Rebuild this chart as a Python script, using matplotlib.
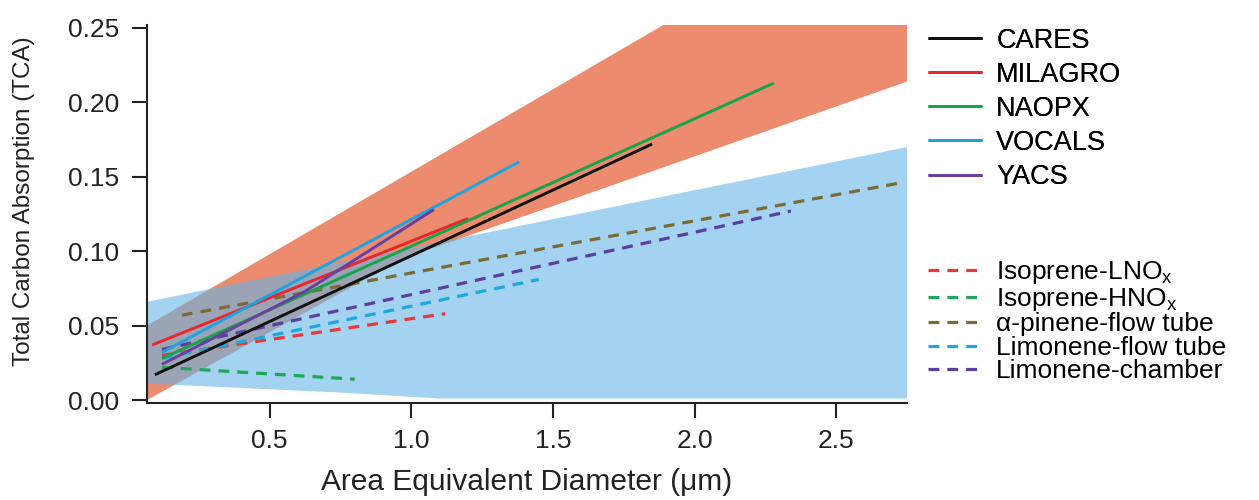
import numpy as np
import matplotlib
matplotlib.use('Agg')
import matplotlib.pyplot as plt

plt.rcParams['font.family'] = ['Liberation Sans', 'DejaVu Sans']
plt.rcParams['mathtext.fontset'] = 'custom'
plt.rcParams['mathtext.rm'] = 'Liberation Sans'

# shaded ranges (upper / lower edges)
orange_up_x = [0.067, 1.89, 2.75]
orange_up_y = [0.050, 0.252, 0.252]
orange_lo_x = [0.067, 0.97, 1.81, 2.75]
orange_lo_y = [0.000, 0.095, 0.151, 0.214]

blue_up_x = [0.067, 2.75]
blue_up_y = [0.066, 0.170]
blue_lo_x = [0.067, 0.30, 0.75, 1.10, 2.75]
blue_lo_y = [0.011, 0.009, 0.005, 0.001, 0.001]

# field campaigns (solid)
field_names = ['CARES', 'MILAGRO', 'NAOPX', 'VOCALS', 'YACS']
field_colors = ['#111111', '#E8262C', '#16A34A', '#1CA3E0', '#6B3FA0']
field_x = [[0.095, 1.85], [0.085, 1.20], [0.12, 2.28], [0.12, 1.38], [0.12, 0.625, 1.08]]
field_y = [[0.017, 0.172], [0.037, 0.122], [0.028, 0.213], [0.032, 0.160], [0.024, 0.073, 0.128]]

# lab studies (dashed)
lab_names = ['Isoprene-LNO$\\mathregular{_x}$', 'Isoprene-HNO$\\mathregular{_x}$',
             '\u03b1-pinene-flow tube', 'Limonene-flow tube', 'Limonene-chamber']
lab_colors = ['#E43A3C', '#1FA85A', '#7A6A36', '#1FA8DE', '#5B3FA0']
lab_x = [[0.12, 1.12], [0.12, 0.80], [0.19, 2.73], [0.12, 1.45], [0.12, 2.34]]
lab_y = [[0.030, 0.058], [0.022, 0.014], [0.057, 0.146], [0.028, 0.081], [0.034, 0.127]]

fig = plt.figure(figsize=(12.59, 5.0), dpi=100)
ax = fig.add_axes([147/1259, 97/500, 760/1259, 378/500])

ax.fill(orange_up_x + orange_lo_x[::-1], orange_up_y + orange_lo_y[::-1],
        color='#EC8B6D', lw=0, zorder=1)
ax.fill(blue_up_x + blue_lo_x[::-1], blue_up_y + blue_lo_y[::-1],
        color='#66B6E6', alpha=0.6, lw=0, zorder=2)

h1 = []
for n, c, xx, yy in zip(field_names, field_colors, field_x, field_y):
    l, = ax.plot(xx, yy, color=c, lw=2.1, label=n, zorder=4, solid_capstyle='butt')
    h1.append(l)
h2 = []
for n, c, xx, yy in zip(lab_names, lab_colors, lab_x, lab_y):
    l, = ax.plot(xx, yy, color=c, lw=2.3, dashes=(3.4, 2.5), label=n, zorder=3)
    h2.append(l)

ax.set_xlim(0.067, 2.75)
ax.set_ylim(-0.002, 0.252)
ax.set_xticks([0.5, 1.0, 1.5, 2.0, 2.5])
ax.set_yticks([0.0, 0.05, 0.10, 0.15, 0.20, 0.25])
ax.set_yticklabels(['0.00', '0.05', '0.10', '0.15', '0.20', '0.25'])
for s in ['top', 'right']:
    ax.spines[s].set_visible(False)
for s in ['left', 'bottom']:
    ax.spines[s].set_linewidth(1.5)
    ax.spines[s].set_color('#222222')
ax.tick_params(axis='both', direction='out', length=11, width=1.5, labelsize=19,
               colors='#222222')
ax.tick_params(axis='y', pad=9)
ax.tick_params(axis='x', pad=8)
ax.set_xlabel('Area Equivalent Diameter (\u03bcm)', fontsize=21.5, color='#222222')
ax.set_ylabel('Total Carbon Absorption (TCA)', fontsize=17.5, color='#222222')
ax.yaxis.set_label_coords(-0.147, 0.535)
ax.xaxis.set_label_coords(0.5, -0.172)

leg1 = fig.legend(handles=h1, loc='upper left', bbox_to_anchor=(928/1259, 0.945),
                  frameon=False, fontsize=19.5, handlelength=2.0, handletextpad=0.52,
                  labelspacing=0.3, borderpad=0, borderaxespad=0)
fig.add_artist(leg1)
leg2 = fig.legend(handles=h2, loc='upper left', bbox_to_anchor=(928/1259, 0.481),
                  frameon=False, fontsize=19, handlelength=2.05, handletextpad=0.53,
                  labelspacing=-0.02, borderpad=0, borderaxespad=0)

fig.savefig('out.png', dpi=100)
